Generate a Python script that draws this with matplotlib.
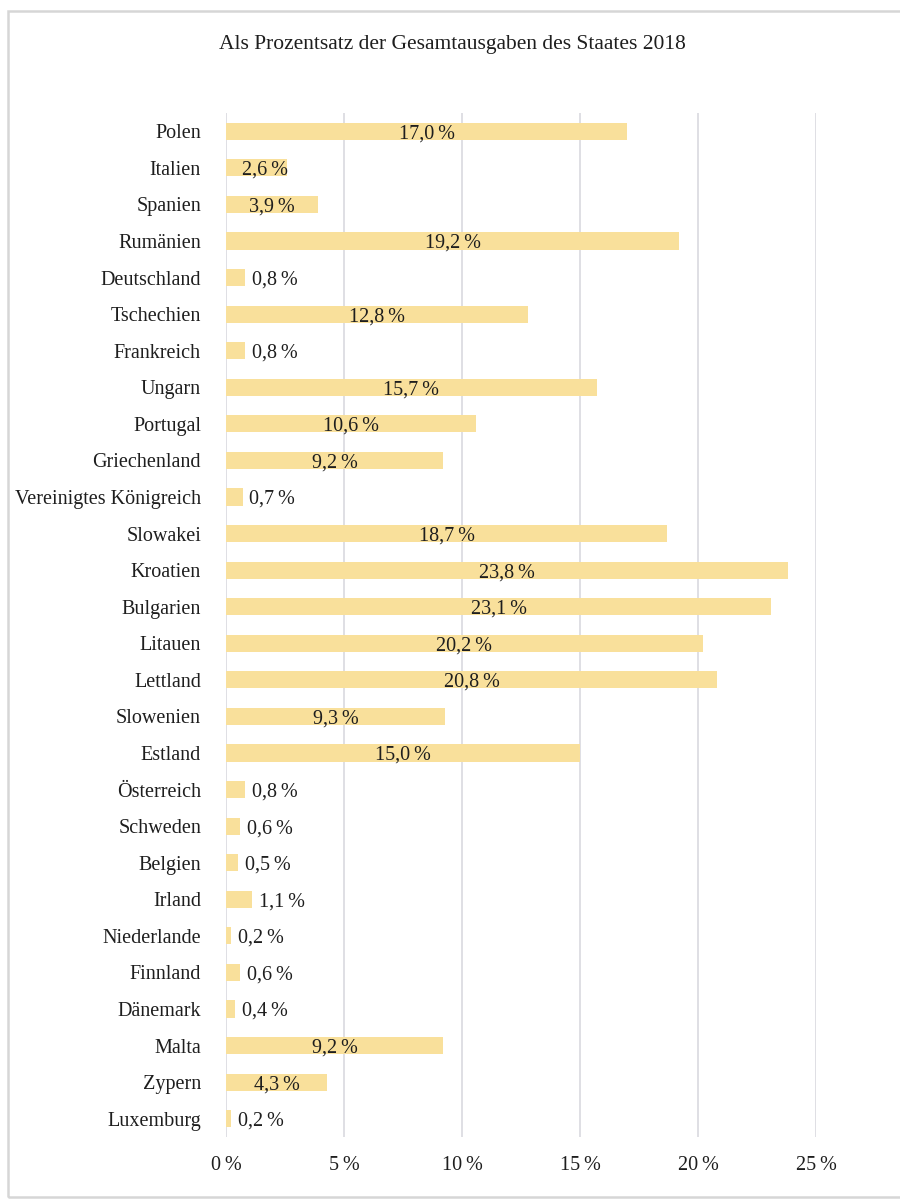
import matplotlib.pyplot as plt
from matplotlib.patches import Rectangle

plt.rcParams['font.family'] = ['Liberation Serif', 'DejaVu Serif']

# Share of total government expenditure, 2018 (percent)
countries = ["Polen", "Italien", "Spanien", "Rumänien", "Deutschland", "Tschechien",
             "Frankreich", "Ungarn", "Portugal", "Griechenland", "Vereinigtes Königreich",
             "Slowakei", "Kroatien", "Bulgarien", "Litauen", "Lettland", "Slowenien",
             "Estland", "Österreich", "Schweden", "Belgien", "Irland", "Niederlande",
             "Finnland", "Dänemark", "Malta", "Zypern", "Luxemburg"]
values = [17.0, 2.6, 3.9, 19.2, 0.8, 12.8, 0.8, 15.7, 10.6, 9.2, 0.7,
          18.7, 23.8, 23.1, 20.2, 20.8, 9.3, 15.0, 0.8, 0.6, 0.5, 1.1, 0.2,
          0.6, 0.4, 9.2, 4.3, 0.2]
ticks = [0, 5, 10, 15, 20, 25]

bar_color = "#F9E09B"
grid_color = "#DCDCE2"
text_color = "#1E1E1E"
fs = 14.5
nsp = "\u202f"  # narrow space before the percent sign

fig = plt.figure(figsize=(9, 12), dpi=100)
ax = fig.add_axes([226 / 900, 1 - 1137 / 1200, 590 / 900, 1024 / 1200])

ypos = list(range(len(countries)))
ax.barh(ypos, values, height=0.47, color=bar_color, zorder=2)

ax.set_xlim(0, 25)
ax.set_ylim(len(countries) - 0.5, -0.5)
ax.set_xticks(ticks)
ax.set_xticklabels([f"{t}{nsp}%" for t in ticks], fontsize=fs, color=text_color)
ax.set_yticks(ypos)
ax.set_yticklabels(countries, fontsize=fs, color=text_color)
ax.tick_params(axis='y', length=0, pad=18)
ax.tick_params(axis='x', length=0, pad=14)
for s in ax.spines.values():
    s.set_visible(False)
ax.xaxis.grid(True, color=grid_color, linewidth=1.3, zorder=0)
ax.set_axisbelow(True)

# value labels: tiny bars get the label outside, the rest centred on the bar
for y, v in zip(ypos, values):
    txt = f"{v:.1f}{nsp}%".replace(".", ",")
    if v < 2:
        ax.annotate(txt, (v, y), xytext=(5, 0), textcoords='offset points',
                    ha='left', va='center_baseline', fontsize=fs, color=text_color)
    else:
        ax.text(max(v / 2, 1.65), y, txt, ha='center', va='center_baseline',
                fontsize=fs, color=text_color, zorder=3)

fig.text(452 / 900, 1 - 45 / 1200, "Als Prozentsatz der Gesamtausgaben des Staates 2018",
         ha='center', va='center', fontsize=15.5, color=text_color)

# light frame round the whole chart
fig.patches.append(Rectangle((8 / 900, 1 - 1197 / 1200), 1.0,
                             (1197 - 11) / 1200, transform=fig.transFigure,
                             fill=False, edgecolor="#D6D6D6", linewidth=1.8))

fig.savefig("out.png", dpi=100)
